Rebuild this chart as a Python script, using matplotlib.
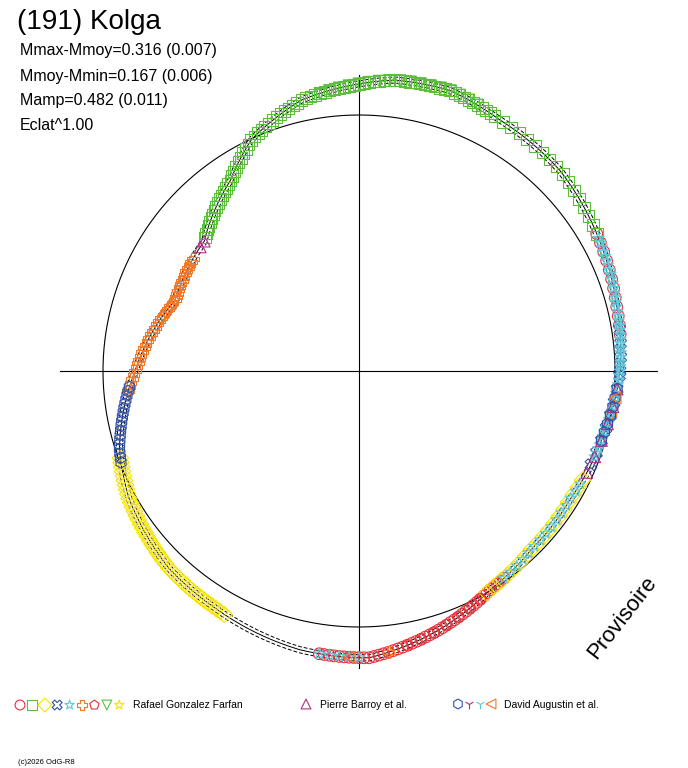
import numpy as np
import matplotlib
matplotlib.use("Agg")
import matplotlib.pyplot as plt
plt.rcParams['font.family'] = ['Liberation Sans', 'DejaVu Sans']

# light-curve shape: phase angle (deg, math convention) -> radius (ref circle = 1)
curve_ang = [0, 15, 29, 45, 61, 72, 83, 102, 115, 124, 140, 159, 180, 198, 209, 226, 238, 258, 272, 287, 301, 314, 329, 346, 360]
curve_r = [1.020, 1.039, 1.070, 1.109, 1.125, 1.152, 1.145, 1.082, 0.996, 0.898, 0.789, 0.770, 0.875, 0.984, 1.027, 1.070, 1.082, 1.113, 1.121, 1.059, 0.996, 0.969, 0.965, 0.988, 1.020]

# observation phases for each series (deg)
series = [
    ("o", "#e8303a", list(range(262, 306, 1)) + list(range(8, 32, 2))),
    ("s", "#5cbf3c", list(range(62, 140, 1)) + list(range(30, 62, 2))),
    ("D", "#f5e400", list(range(200, 242, 1)) + list(range(300, 336, 2))),
    ("X", "#3050a8", list(range(338, 360, 3)) + list(range(0, 12, 3))),
    ("*", "#60c8dc", list(range(340, 360, 1)) + list(range(0, 30, 1)) + list(range(262, 272, 2)) + list(range(305, 335, 2))),
    ("P", "#f07828", list(range(146, 186, 1)) + [276, 350]),
    ("p", "#e8303a", list(range(280, 300, 3))),
    ("v", "#5cbf3c", list(range(66, 100, 2))),
    ("^", "#b0307e", [140, 142, 336, 340, 344, 348, 352, 356]),
    ("h", "#3050a8", list(range(184, 202, 1)) + list(range(344, 358, 2))),
    ("<", "#f07828", [268, 354]),
]

fig = plt.figure(figsize=(6.88, 7.68), dpi=100)
ax = fig.add_axes([0, 0, 1, 1])
S = 256.0
cx, cy = 359.0, 371.0
ax.set_xlim(-cx / S, (688 - cx) / S)
ax.set_ylim(-(768 - cy) / S, cy / S)
ax.axis("off")

ax.plot([(60 - cx) / S, (657 - cx) / S], [0, 0], color="black", lw=0.8)
ax.plot([0, 0], [(cy - 668) / S, (cy - 75) / S], color="black", lw=0.8)
t = np.linspace(0, 2 * np.pi, 400)
ax.plot(np.cos(t), np.sin(t), color="black", lw=0.8)

th = np.linspace(0, 360, 721)
rr = np.interp(th, curve_ang, curve_r)
for d, ls in [(0, "-"), (0.012, (0, (4, 2))), (-0.012, (0, (4, 2)))]:
    ax.plot((rr + d) * np.cos(np.radians(th)), (rr + d) * np.sin(np.radians(th)),
            color="black", lw=0.7, ls=ls)

for m, c, ph in series:
    ph = np.array(ph, float)
    r = np.interp(ph, curve_ang, curve_r)
    ax.scatter(r * np.cos(np.radians(ph)), r * np.sin(np.radians(ph)), marker=m,
               s=70, facecolors="none", edgecolors=c, linewidths=0.8, zorder=3)

def px(x, y):
    return ((x - cx) / S, (cy - y) / S)

ax.text(*px(17, 22), "(191) Kolga", fontsize=20, va="center", ha="left")
for i, s in enumerate(["Mmax-Mmoy=0.316 (0.007)", "Mmoy-Mmin=0.167 (0.006)",
                       "Mamp=0.482 (0.011)", "Eclat^1.00"]):
    ax.text(*px(20, 51 + i * 25), s, fontsize=11.5, va="center", ha="left")
ax.text(*px(622, 618), "Provisoire", fontsize=16, rotation=52, ha="center", va="center")

leg = [("o", "#e8303a"), ("s", "#5cbf3c"), ("D", "#f5e400"), ("X", "#3050a8"),
       ("*", "#60c8dc"), ("P", "#f07828"), ("p", "#e8303a"), ("v", "#5cbf3c"), ("*", "#f5e400")]
for i, (m, c) in enumerate(leg):
    ax.scatter(*px(20 + i * 12.4, 705), marker=m, s=50, facecolors="none", edgecolors=c, linewidths=0.8)
ax.text(*px(133, 705), "Rafael Gonzalez Farfan", fontsize=7.5, va="center")
ax.scatter(*px(306, 704), marker="^", s=50, facecolors="none", edgecolors="#b0307e", linewidths=0.8)
ax.text(*px(320, 705), "Pierre Barroy et al.", fontsize=7.5, va="center")
for i, (m, c) in enumerate([("h", "#3050a8"), ("1", "#b0307e"), ("1", "#60c8dc"), ("<", "#f07828")]):
    ax.scatter(*px(458 + i * 11, 704), marker=m, s=50, facecolors="none" if m != "1" else c,
               edgecolors=c, linewidths=0.8)
ax.text(*px(504, 705), "David Augustin et al.", fontsize=7.5, va="center")
ax.text(*px(18, 763), "(c)2026 OdG-R8", fontsize=5.5, va="center")

fig.savefig("out.png", dpi=100)
